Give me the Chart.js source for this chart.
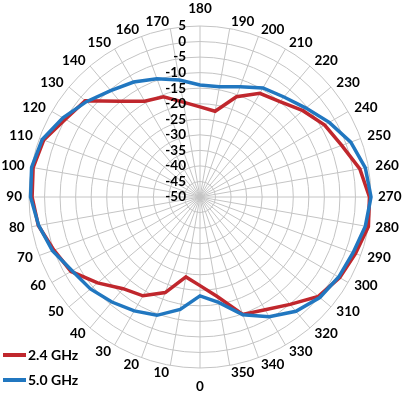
<!DOCTYPE html>
<html><head><meta charset="utf-8">
<script src="https://cdn.jsdelivr.net/npm/chart.js@4.4.1/dist/chart.umd.min.js"></script>
<style>
html,body{margin:0;padding:0;background:#fff;}
#wrap{position:relative;width:408px;height:397px;overflow:hidden;}
#legend{position:absolute;left:3px;top:342px;font:bold 14px Lato, sans-serif;color:#000;}
.item{display:flex;align-items:center;height:25px;white-space:nowrap;}
.sw{width:23px;height:4px;margin-right:2px;}
</style></head><body>
<div id="wrap"><canvas id="c" width="408" height="397"></canvas><div id="legend"></div></div>
<script>
const angleLabels = ['180','190','200','210','220','230','240','250','260','270','280','290','300','310','320','330','340','350','0','10','20','30','40','50','60','70','80','90','100','110','120','130','140','150','160','170'];
const series24 = [-21,-22,-15.7,-11.5,-10,-6.8,-3.7,-1.5,2.2,4.5,5,3.2,1.9,-0.3,-4.9,-8.1,-9.8,-17.4,-21.5,-23.9,-17.3,-13.3,-11.5,-7,-2.1,0,2.8,4,4.5,3.5,0,-1.8,-9.8,-14.4,-15.7,-19];
const series50 = [-14,-14,-12.3,-9.5,-8,-5.5,-2,1.6,4,5,4,2.4,1.5,0.3,-2,-5.5,-9.7,-15.6,-18.2,-13.3,-9.5,-7.7,-5.9,-4,-2.5,0.5,2.7,4.5,5,4,0.9,-2.3,-5.3,-7.3,-9.5,-11.8];
const seriesNames = ['2.4 GHz','5.0 GHz'];
const seriesColors = ['#C0272D','#2177C0'];
const radialMin = -50, radialMax = 5, radialStep = 5;
const labelFont = 'bold 13.5px Lato';

const axisTextPlugin = {
  id: 'axisText',
  afterDatasetsDraw(chart) {
    const s = chart.scales.r, ctx = chart.ctx;
    ctx.save();
    ctx.font = labelFont;
    ctx.fillStyle = '#000';
    // radial tick labels, left of the vertical axis
    ctx.textAlign = 'right';
    ctx.textBaseline = 'middle';
    s.ticks.forEach(t => {
      const d = s.getDistanceFromCenterForValue(t.value);
      ctx.fillText(t.label, s.xCenter - 14, s.yCenter - d);
    });
    // angle labels
    const n = chart.data.labels.length;
    chart.data.labels.forEach((lab, i) => {
      const p = s.getPointPosition(i, s.drawingArea + 7);
      let y = p.y, align;
      if (i === 0) { align = 'center'; y -= 10; }
      else if (i === n / 2) { align = 'center'; y += 12; }
      else align = p.x < s.xCenter ? 'right' : 'left';
      ctx.textAlign = align;
      ctx.fillText(lab, p.x, y);
    });
    ctx.restore();
  }
};

const chart = new Chart(document.getElementById('c'), {
  type: 'radar',
  data: {
    labels: angleLabels,
    datasets: [
      {label: seriesNames[0], data: series24, borderColor: seriesColors[0], borderWidth: 3.5, pointRadius: 0, fill: false, tension: 0, order: 2},
      {label: seriesNames[1], data: series50, borderColor: seriesColors[1], borderWidth: 3.5, pointRadius: 0, fill: false, tension: 0, order: 1}
    ]
  },
  options: {
    responsive: false,
    animation: false,
    layout: {padding: {top: 26, bottom: 29, left: 29, right: 37}},
    plugins: {legend: {display: false}, tooltip: {enabled: false}},
    scales: {
      r: {
        min: radialMin, max: radialMax,
        ticks: {stepSize: radialStep, display: false},
        grid: {circular: true, color: '#C4C4C4', lineWidth: 1},
        angleLines: {color: '#C4C4C4', lineWidth: 1},
        pointLabels: {display: false}
      }
    }
  },
  plugins: [axisTextPlugin]
});

const leg = document.getElementById('legend');
seriesNames.forEach((n, i) => {
  const it = document.createElement('div'); it.className = 'item';
  const sw = document.createElement('span'); sw.className = 'sw'; sw.style.background = seriesColors[i];
  const tx = document.createElement('span'); tx.textContent = n;
  it.appendChild(sw); it.appendChild(tx); leg.appendChild(it);
});
</script>
</body></html>
